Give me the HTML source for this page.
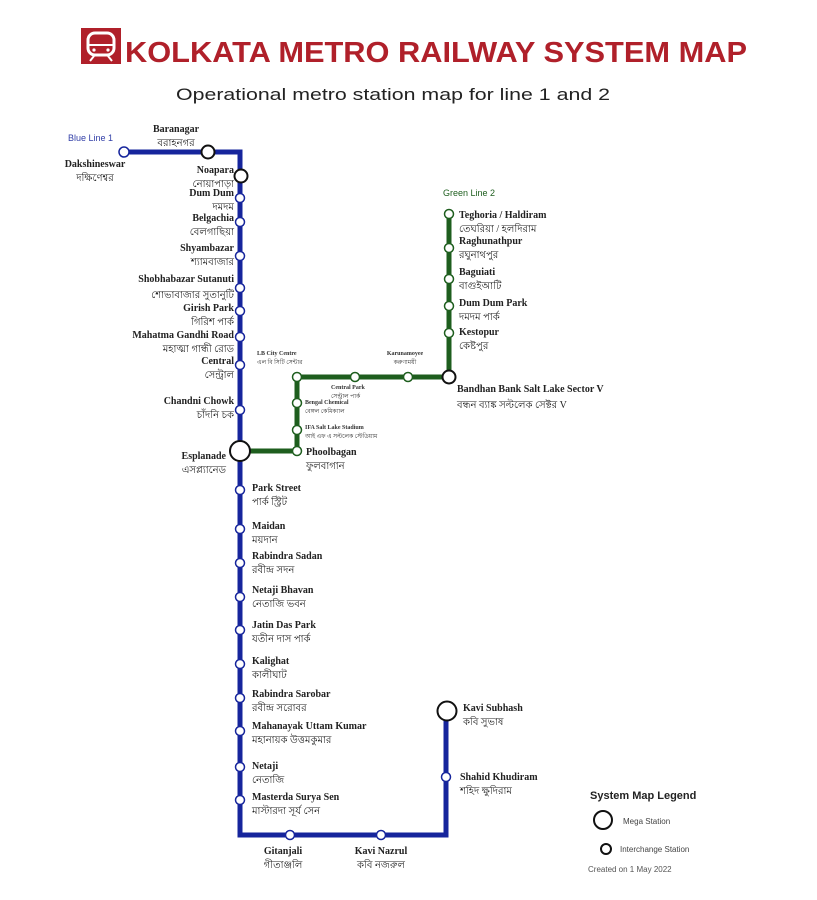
<!DOCTYPE html>
<html><head><meta charset="utf-8"><style>
body{margin:0;background:#fff;}
svg{display:block}
.e{font-family:"Liberation Serif",serif;font-weight:bold;font-size:10px;fill:#222}
.b{font-family:"Liberation Serif","Noto Sans CJK SC",sans-serif;font-size:10px;fill:#222}
.s{font-family:"Liberation Serif",serif;font-weight:bold;font-size:6px;fill:#333}
.sb{font-family:"Liberation Serif",sans-serif;font-size:6px;fill:#333}
</style></head><body>
<svg width="817" height="900" viewBox="0 0 817 900" xmlns="http://www.w3.org/2000/svg">
<rect width="817" height="900" fill="#fff"/>
<!-- logo -->
<rect x="81" y="28" width="40" height="36" fill="#b0202a"/>
<rect x="88" y="33" width="26" height="22" rx="7" fill="none" stroke="#fff" stroke-width="3"/>
<line x1="88" y1="45" x2="114" y2="45" stroke="#fff" stroke-width="2"/>
<circle cx="94" cy="50" r="1.6" fill="#fff"/><circle cx="108" cy="50" r="1.6" fill="#fff"/>
<line x1="90" y1="61" x2="94" y2="56" stroke="#fff" stroke-width="2"/><line x1="112" y1="61" x2="108" y2="56" stroke="#fff" stroke-width="2"/>
<text x="125" y="62" font-family="Liberation Sans,sans-serif" font-weight="bold" font-size="29" fill="#b0202a" textLength="622" lengthAdjust="spacingAndGlyphs">KOLKATA METRO RAILWAY SYSTEM MAP</text>
<text x="176" y="100" font-family="Liberation Sans,sans-serif" font-size="17" fill="#222" textLength="434" lengthAdjust="spacingAndGlyphs">Operational metro station map for line 1 and 2</text>

<!-- green line -->
<g fill="none" stroke="#1e5e1e" stroke-width="5">
<polyline points="449,214 449,377 297,377 297,451 240,451"/>
</g>
<!-- blue line -->
<g fill="none" stroke="#16259c" stroke-width="5">
<polyline points="124,152 240,152 240,835 446,835 446,711"/>
</g>
<!-- small blue stations -->
<g fill="#fff" stroke="#16259c" stroke-width="1.5">
<circle cx="124" cy="152" r="5"/>
<circle cx="240" cy="198" r="4.5"/><circle cx="240" cy="222" r="4.5"/><circle cx="240" cy="256" r="4.5"/>
<circle cx="240" cy="288" r="4.5"/><circle cx="240" cy="311" r="4.5"/><circle cx="240" cy="337" r="4.5"/>
<circle cx="240" cy="365" r="4.5"/><circle cx="240" cy="410" r="4.5"/><circle cx="240" cy="490" r="4.5"/>
<circle cx="240" cy="529" r="4.5"/><circle cx="240" cy="563" r="4.5"/><circle cx="240" cy="597" r="4.5"/>
<circle cx="240" cy="630" r="4.5"/><circle cx="240" cy="664" r="4.5"/><circle cx="240" cy="698" r="4.5"/>
<circle cx="240" cy="731" r="4.5"/><circle cx="240" cy="767" r="4.5"/><circle cx="240" cy="800" r="4.5"/>
<circle cx="290" cy="835" r="4.5"/><circle cx="381" cy="835" r="4.5"/><circle cx="446" cy="777" r="4.5"/>
</g>
<g fill="#fff" stroke="#1e5e1e" stroke-width="1.5">
<circle cx="449" cy="214" r="4.5"/><circle cx="449" cy="248" r="4.5"/><circle cx="449" cy="279" r="4.5"/>
<circle cx="449" cy="306" r="4.5"/><circle cx="449" cy="333" r="4.5"/>
<circle cx="297" cy="377" r="4.5"/><circle cx="355" cy="377" r="4.5"/><circle cx="408" cy="377" r="4.5"/>
<circle cx="297" cy="403" r="4.5"/><circle cx="297" cy="430" r="4.5"/><circle cx="297" cy="451" r="4.5"/>
</g>
<g fill="#fff" stroke="#111" stroke-width="2">
<circle cx="208" cy="152" r="6.5"/><circle cx="241" cy="176" r="6.5"/><circle cx="449" cy="377" r="6.5"/>
<circle cx="240" cy="451" r="10"/><circle cx="447" cy="711" r="9.5"/>
</g>
<text x="68" y="141" font-family="Liberation Sans,sans-serif" font-size="9" fill="#3340a8">Blue Line 1</text>
<text x="443" y="196" font-family="Liberation Sans,sans-serif" font-size="9" fill="#1e5e1e">Green Line 2</text>

<g text-anchor="middle">
<text class="e" x="176" y="132">Baranagar</text><text class="b" x="176" y="146">বরাহনগর</text>
<text class="e" x="95" y="167">Dakshineswar</text><text class="b" x="95" y="181">দক্ষিণেশ্বর</text>
<text class="e" x="283" y="854">Gitanjali</text><text class="b" x="283" y="868">গীতাঞ্জলি</text>
<text class="e" x="381" y="854">Kavi Nazrul</text><text class="b" x="381" y="868">কবি নজরুল</text>
<text class="s" x="405" y="355">Karunamoyee</text><text class="sb" x="405" y="364">করুণাময়ী</text>
</g>
<g text-anchor="end">
<text class="e" x="234" y="173">Noapara</text><text class="b" x="234" y="187">নোয়াপাড়া</text>
<text class="e" x="234" y="196">Dum Dum</text><text class="b" x="234" y="210">দমদম</text>
<text class="e" x="234" y="221">Belgachia</text><text class="b" x="234" y="235">বেলগাছিয়া</text>
<text class="e" x="234" y="251">Shyambazar</text><text class="b" x="234" y="265">শ্যামবাজার</text>
<text class="e" x="234" y="282">Shobhabazar Sutanuti</text><text class="b" x="234" y="298">শোভাবাজার সুতানুটি</text>
<text class="e" x="234" y="311">Girish Park</text><text class="b" x="234" y="325">গিরিশ পার্ক</text>
<text class="e" x="234" y="338">Mahatma Gandhi Road</text><text class="b" x="234" y="352">মহাত্মা গান্ধী রোড</text>
<text class="e" x="234" y="364">Central</text><text class="b" x="234" y="378">সেন্ট্রাল</text>
<text class="e" x="234" y="404">Chandni Chowk</text><text class="b" x="234" y="418">চাঁদনি চক</text>
<text class="e" x="226" y="459">Esplanade</text><text class="b" x="226" y="473">এসপ্ল্যানেড</text>
</g>
<g>
<text class="e" x="252" y="491">Park Street</text><text class="b" x="252" y="505">পার্ক স্ট্রিট</text>
<text class="e" x="252" y="529">Maidan</text><text class="b" x="252" y="543">ময়দান</text>
<text class="e" x="252" y="559">Rabindra Sadan</text><text class="b" x="252" y="573">রবীন্দ্র সদন</text>
<text class="e" x="252" y="593">Netaji Bhavan</text><text class="b" x="252" y="607">নেতাজি ভবন</text>
<text class="e" x="252" y="628">Jatin Das Park</text><text class="b" x="252" y="642">যতীন দাস পার্ক</text>
<text class="e" x="252" y="664">Kalighat</text><text class="b" x="252" y="678">কালীঘাট</text>
<text class="e" x="252" y="697">Rabindra Sarobar</text><text class="b" x="252" y="711">রবীন্দ্র সরোবর</text>
<text class="e" x="252" y="729">Mahanayak Uttam Kumar</text><text class="b" x="252" y="743">মহানায়ক উত্তমকুমার</text>
<text class="e" x="252" y="769">Netaji</text><text class="b" x="252" y="783">নেতাজি</text>
<text class="e" x="252" y="800">Masterda Surya Sen</text><text class="b" x="252" y="814">মাস্টারদা সূর্য সেন</text>
<text class="e" x="463" y="711">Kavi Subhash</text><text class="b" x="463" y="725">কবি সুভাষ</text>
<text class="e" x="460" y="780">Shahid Khudiram</text><text class="b" x="460" y="794">শহিদ ক্ষুদিরাম</text>
<text class="e" x="459" y="218">Teghoria / Haldiram</text><text class="b" x="459" y="232">তেঘরিয়া / হলদিরাম</text>
<text class="e" x="459" y="244">Raghunathpur</text><text class="b" x="459" y="258">রঘুনাথপুর</text>
<text class="e" x="459" y="275">Baguiati</text><text class="b" x="459" y="289">বাগুইআটি</text>
<text class="e" x="459" y="306">Dum Dum Park</text><text class="b" x="459" y="320">দমদম পার্ক</text>
<text class="e" x="459" y="335">Kestopur</text><text class="b" x="459" y="349">কেষ্টপুর</text>
<text class="e" x="457" y="392" font-size="10.5">Bandhan Bank Salt Lake Sector V</text><text class="b" x="457" y="408" font-size="11">বন্ধন ব্যাঙ্ক সল্টলেক সেক্টর V</text>
<text class="e" x="306" y="455">Phoolbagan</text><text class="b" x="306" y="469">ফুলবাগান</text>
<text class="s" x="257" y="355">LB City Centre</text><text class="sb" x="257" y="364">এল বি সিটি সেন্টার</text>
<text class="s" x="331" y="389">Central Park</text><text class="sb" x="331" y="398">সেন্ট্রাল পার্ক</text>
<text class="s" x="305" y="404">Bengal Chemical</text><text class="sb" x="305" y="413">বেঙ্গল কেমিক্যাল</text>
<text class="s" x="305" y="429">IFA Salt Lake Stadium</text><text class="sb" x="305" y="438">আই এফ এ সল্টলেক স্টেডিয়াম</text>
</g>
<!-- legend -->
<text x="590" y="799" font-family="Liberation Sans,sans-serif" font-weight="bold" font-size="11" fill="#222">System Map Legend</text>
<circle cx="603" cy="820" r="9" fill="#fff" stroke="#111" stroke-width="2"/>
<text x="623" y="824" font-family="Liberation Sans,sans-serif" font-size="8" fill="#444">Mega Station</text>
<circle cx="606" cy="849" r="5" fill="#fff" stroke="#111" stroke-width="2"/>
<text x="620" y="852" font-family="Liberation Sans,sans-serif" font-size="8" fill="#444">Interchange Station</text>
<text x="588" y="872" font-family="Liberation Sans,sans-serif" font-size="8" fill="#555">Created on 1 May 2022</text>
</svg>
</body></html>
